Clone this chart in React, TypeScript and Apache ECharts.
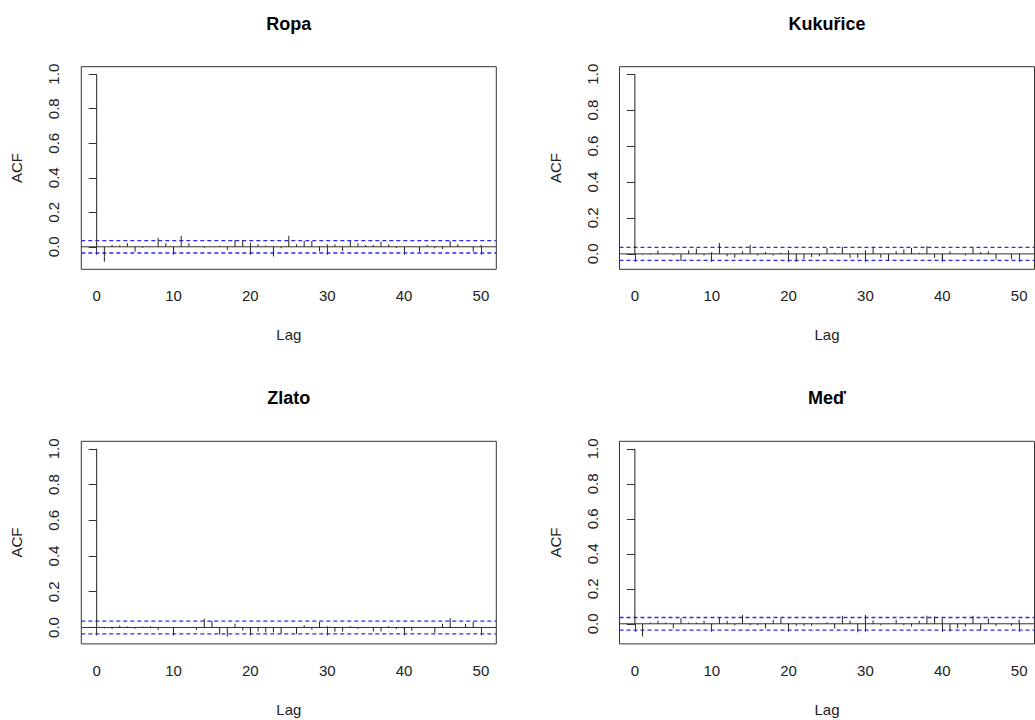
import React, { useEffect, useRef } from "react";
import * as echarts from "echarts";

const lags = [0, 1, 2, 3, 4, 5, 6, 7, 8, 9, 10, 11, 12, 13, 14, 15, 16, 17, 18, 19, 20, 21, 22, 23, 24, 25, 26, 27, 28, 29, 30, 31, 32, 33, 34, 35, 36, 37, 38, 39, 40, 41, 42, 43, 44, 45, 46, 47, 48, 49, 50];

const ropa = [1.0, -0.087, 0.010, 0.008, 0.020, -0.029, -0.005, 0.002, 0.052, 0.020, -0.029, 0.064, 0.020, 0.001, -0.006, 0.002, 0.006, -0.017, 0.040, 0.040, 0.025, 0.015, 0.007, -0.056, -0.008, 0.064, 0.015, 0.033, 0.033, -0.027, 0.015, 0.015, -0.025, 0.033, 0.020, 0.010, 0.010, 0.030, 0.015, -0.007, 0.001, 0.001, -0.029, 0.010, -0.008, -0.013, 0.033, 0.015, 0.001, -0.029, 0.010];
const kukurice = [1.0, -0.005, -0.005, 0.020, 0.002, -0.007, -0.039, 0.020, 0.030, -0.009, 0.011, 0.061, -0.013, -0.022, 0.015, 0.050, -0.009, 0.011, -0.009, 0.007, 0.020, -0.044, -0.028, -0.018, -0.013, 0.033, 0.007, 0.039, -0.022, -0.022, 0.020, 0.037, -0.022, -0.039, 0.015, 0.026, 0.033, 0.007, 0.044, -0.022, -0.031, 0.015, 0.001, -0.009, 0.033, 0.011, 0.015, -0.031, 0.001, -0.028, 0.001];
const zlato = [1.0, -0.005, -0.009, 0.011, 0.006, -0.007, 0.006, 0.007, -0.013, 0.001, -0.039, 0.001, 0.001, -0.013, 0.049, 0.036, -0.039, -0.050, 0.021, -0.017, -0.017, -0.022, -0.028, -0.028, -0.037, 0.001, -0.037, 0.013, -0.013, 0.030, 0.007, -0.024, -0.022, 0.007, -0.007, 0.001, -0.022, -0.022, 0.007, -0.009, -0.009, -0.019, 0.001, 0.001, -0.030, 0.021, 0.052, 0.001, 0.021, 0.032, 0.001];
const med = [1.0, -0.072, 0.008, 0.017, 0.008, -0.025, 0.032, 0.008, 0.008, 0.017, -0.008, 0.036, 0.017, -0.008, 0.050, -0.008, -0.008, -0.027, 0.023, 0.032, -0.008, -0.011, -0.011, -0.011, 0.001, 0.009, -0.027, 0.046, 0.017, -0.048, 0.050, 0.019, -0.008, 0.001, 0.023, -0.008, -0.015, 0.017, 0.046, 0.042, 0.032, -0.044, -0.025, -0.015, 0.046, -0.038, 0.032, -0.011, 0.001, -0.011, 0.023];

const titles = ["Ropa", "Kukuřice", "Zlato", "Meď"];
const ciValues = [0.036, 0.036, 0.036, 0.036];
const xTicks = [0, 10, 20, 30, 40, 50];
const yTicks = [0, 0.2, 0.4, 0.6, 0.8, 1.0];
const xRange = [-2, 52];

const FONT = "'Liberation Sans', Arial, sans-serif";

export default function App() {
  const ref = useRef<HTMLDivElement>(null);
  useEffect(() => {
    if (!ref.current) return;
    const chart = echarts.init(ref.current, null, { renderer: "svg" });
    const seriesData = [ropa, kukurice, zlato, med];
    const lefts = [81.3, 619.5, 81.3, 619.5];
    const tops = [66.7, 66.7, 441.3, 441.3];
    const W = 415;
    const H = 202.6;

    const grids: any[] = [];
    const xAxes: any[] = [];
    const yAxes: any[] = [];
    const series: any[] = [];
    const titleArr: any[] = [];

    const hline = (i: number, y: number, color: string, type: any, width: number) => ({
      type: "line", xAxisIndex: i, yAxisIndex: i, silent: true,
      showSymbol: false, symbol: "none",
      data: [[xRange[0], y], [xRange[1], y]],
      lineStyle: { color, type, width },
      z: 1,
    });

    seriesData.forEach((vals, i) => {
      const ci = ciValues[i];
      const lo = Math.min(Math.min(...vals), -ci);
      const hi = Math.max(Math.max(...vals), ci);
      const pad = 0.04 * (hi - lo);
      grids.push({
        left: lefts[i], top: tops[i], width: W, height: H,
        show: true, borderColor: "#333", borderWidth: 1, backgroundColor: "transparent",
        containLabel: false,
      });
      xAxes.push({
        type: "value", gridIndex: i, min: xRange[0], max: xRange[1],
        axisLine: { show: false },
        axisTick: { show: true, length: 8, customValues: xTicks, lineStyle: { color: "#333" } },
        axisLabel: { show: true, customValues: xTicks, color: "#222", fontSize: 15, fontFamily: FONT, margin: 19 },
        splitLine: { show: false },
        name: "Lag", nameLocation: "middle", nameGap: 58,
        nameTextStyle: { color: "#222", fontSize: 15, fontFamily: FONT },
      });
      yAxes.push({
        type: "value", gridIndex: i, min: lo - pad, max: hi + pad,
        axisLine: { show: false },
        axisTick: { show: true, length: 8, customValues: yTicks, lineStyle: { color: "#333" } },
        axisLabel: {
          show: true, customValues: yTicks, rotate: 90, color: "#222", fontSize: 15, fontFamily: FONT, margin: 20,
          formatter: (v: number) => v.toFixed(1),
        },
        splitLine: { show: false },
        name: "ACF", nameLocation: "middle", nameGap: 57,
        nameTextStyle: { color: "#222", fontSize: 15, fontFamily: FONT },
      });
      series.push(hline(i, 0, "#333", "solid", 1));
      series.push(hline(i, ci, "#2a2aff", [4, 3], 1.3));
      series.push(hline(i, -ci, "#2a2aff", [4, 3], 1.3));
      series.push({
        type: "bar", xAxisIndex: i, yAxisIndex: i,
        data: lags.map((l, k) => [l, vals[k]]),
        barWidth: 1,
        itemStyle: { color: "#222" },
        silent: true,
        z: 2,
      });
      titleArr.push({
        text: titles[i], left: lefts[i] + W / 2, top: tops[i] - 52, textAlign: "center", padding: 0,
        textStyle: { fontSize: 18, fontWeight: "bold", color: "#000", fontFamily: FONT },
      });
    });

    chart.setOption({
      animation: false,
      backgroundColor: "#fff",
      title: titleArr,
      grid: grids,
      xAxis: xAxes,
      yAxis: yAxes,
      series,
    });
    return () => chart.dispose();
  }, []);
  return <div ref={ref} style={{ position: "absolute", left: 0, top: 0, width: 1035, height: 720 }} />;
}
